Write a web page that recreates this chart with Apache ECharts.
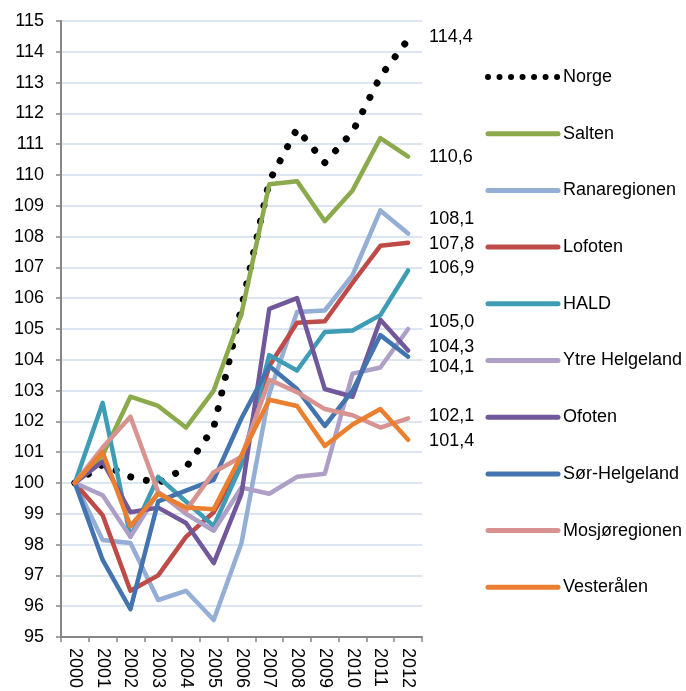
<!DOCTYPE html>
<html style="height: 100%">
<head>
<meta charset="utf-8">
<style type="text/css">
* {
	margin: 0;
	padding: 0;
}
</style>
</head>
<body style="height: 100%; margin: 0; background: #fff">
	<div id="main" style="width: 686px; height: 691px"></div>
	<script type="text/javascript" src="https://cdn.jsdelivr.net/npm/echarts@6/dist/echarts.min.js"></script>
	<script type="text/javascript">

// ----- data -----
var years = ['2000', '2001', '2002', '2003', '2004', '2005', '2006', '2007', '2008', '2009', '2010', '2011', '2012'];

var norge        = [100, 100.6, 100.2, 100.0, 100.5, 101.8, 105.7, 109.8, 111.5, 110.4, 111.4, 113.2, 114.4];
var salten       = [100, 100.9, 102.8, 102.5, 101.8, 103.0, 105.5, 109.7, 109.8, 108.5, 109.5, 111.2, 110.6];
var ranaregionen = [100, 98.15, 98.05, 96.2, 96.5, 95.55, 98.05, 102.9, 105.55, 105.6, 106.75, 108.85, 108.1];
var lofoten      = [100, 98.95, 96.5, 97.0, 98.25, 99.05, 100.6, 103.8, 105.2, 105.25, 106.5, 107.7, 107.8];
var hald         = [100, 102.6, 98.25, 100.2, 99.4, 98.6, 100.6, 104.15, 103.65, 104.9, 104.95, 105.45, 106.9];
var ytreHelg     = [100, 99.6, 98.25, 99.7, 99.0, 98.45, 99.85, 99.65, 100.2, 100.3, 103.55, 103.75, 105.0];
var ofoten       = [100, 100.7, 99.05, 99.2, 98.7, 97.4, 99.65, 105.65, 106.0, 103.05, 102.8, 105.3, 104.3];
var sorHelg      = [100, 97.5, 95.9, 99.4, 99.75, 100.1, 102.1, 103.8, 103.05, 101.85, 103.0, 104.8, 104.1];
var mosjo        = [100, 101.15, 102.15, 99.7, 99.1, 100.35, 100.85, 103.35, 102.95, 102.4, 102.2, 101.8, 102.1];
var vesteralen   = [100, 101.0, 98.6, 99.65, 99.2, 99.15, 100.9, 102.7, 102.5, 101.2, 101.9, 102.4, 101.4];

var yTicks = { min: 95, max: 115, interval: 1 };

// ----- styling -----
var FONT = '"Liberation Sans", Arial, sans-serif';
var FS = 18;

var defs = [
	{ name: 'Norge',          data: norge,        color: '#000000', dotted: true, off: [0, -2] },
	{ name: 'Salten',         data: salten,       color: '#8AAA4B', off: [0, 1] },
	{ name: 'Ranaregionen',   data: ranaregionen, color: '#94AED5', off: [0, -14] },
	{ name: 'Lofoten',        data: lofoten,      color: '#BE4B48', off: [0, 1] },
	{ name: 'HALD',           data: hald,         color: '#3F9CB5', off: [0, -2] },
	{ name: 'Ytre Helgeland', data: ytreHelg,     color: '#AE9FC6', off: [0, -7] },
	{ name: 'Ofoten',         data: ofoten,       color: '#71589B', off: [0, -4] },
	{ name: 'Sør-Helgeland',  data: sorHelg,      color: '#4474AF', off: [0, 10] },
	{ name: 'Mosjøregionen',  data: mosjo,        color: '#D89391', off: [0, -2] },
	{ name: 'Vesterålen',     data: vesteralen,   color: '#E97F2F', off: [0, 1] }
];

var series = defs.map(function (d) {
	return {
		name: d.name,
		type: 'line',
		data: d.data,
		symbol: 'none',
		smooth: false,
		lineStyle: d.dotted
			? { color: d.color, width: 7, type: [0.01, 16], cap: 'round' }
			: { color: d.color, width: 4.5, cap: 'round', join: 'round' },
		itemStyle: { color: d.color },
		endLabel: {
			show: true,
			distance: 21,
			offset: d.off,
			color: '#000',
			fontFamily: FONT,
			fontSize: FS,
			formatter: function (p) {
				return Number(p.value).toFixed(1).replace('.', ',');
			}
		},
		emphasis: { disabled: true }
	};
});

var legendData = defs.map(function (d) {
	return {
		name: d.name,
		lineStyle: d.dotted
			? { color: d.color, width: 6, type: [0.01, 11.5], cap: 'round' }
			: { color: d.color, width: 5, cap: 'round' }
	};
});

var myChart = echarts.init(document.getElementById('main'));

var option = {
	animation: false,
	backgroundColor: '#ffffff',
	grid: { left: 61, right: 264, top: 21, bottom: 50, containLabel: false },
	legend: {
		orient: 'vertical',
		left: 485,
		top: 68,
		padding: 0,
		itemWidth: 70,
		itemHeight: 14,
		itemGap: 38.7,
		itemStyle: { opacity: 0, borderWidth: 0 },
		textStyle: { color: '#000', fontFamily: FONT, fontSize: FS },
		data: legendData
	},
	xAxis: {
		type: 'category',
		data: years,
		boundaryGap: true,
		axisLine: { lineStyle: { color: '#868686', width: 2 } },
		axisTick: { show: true, length: 5, lineStyle: { color: '#868686', width: 1.5 } },
		axisLabel: { rotate: -90, color: '#000', fontFamily: FONT, fontSize: FS, margin: 11, interval: 0 },
		splitLine: { show: false }
	},
	yAxis: {
		type: 'value',
		min: yTicks.min,
		max: yTicks.max,
		interval: yTicks.interval,
		axisLine: { show: true, lineStyle: { color: '#868686', width: 2 } },
		axisTick: { show: true, length: 5, lineStyle: { color: '#868686', width: 1.5 } },
		axisLabel: { color: '#000', fontFamily: FONT, fontSize: FS, margin: 17 },
		splitLine: { lineStyle: { color: '#DCE6F2', width: 2 } }
	},
	series: series
};

myChart.setOption(option);
	</script>
</body>
</html>
